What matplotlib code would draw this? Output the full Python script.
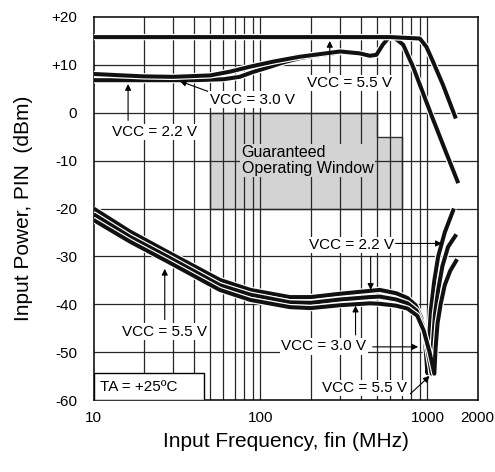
import matplotlib
matplotlib.use("Agg")
from matplotlib import pyplot as plt
from matplotlib.patches import Polygon, Rectangle
import matplotlib.patheffects as pe

plt.rcParams['font.family'] = ['Liberation Sans', 'DejaVu Sans']

# upper curves (maximum input power), MHz / dBm
f_max55 = [10, 100, 300, 600, 900, 985, 1070, 1240, 1480]
p_max55 = [15.8, 15.8, 15.8, 15.8, 15.5, 13.8, 11.0, 5.8, -1.2]

f_max30 = [10, 15, 20, 30, 50, 66, 86, 120, 172, 300, 393, 452, 495, 540, 580,
           617, 660, 716, 820, 1070, 1300, 1530]
p_max30 = [8.1, 7.8, 7.6, 7.5, 7.8, 8.6, 9.6, 10.7, 11.7, 12.8, 12.4, 11.9, 12.1,
           14.2, 15.5, 15.9, 15.2, 14.2, 9.6, -1.0, -8.5, -14.7]

f_max22 = [10, 20, 40, 60, 75, 90, 114, 140, 172, 230, 300]
p_max22 = [6.8, 6.8, 6.8, 7.0, 7.5, 8.5, 9.6, 10.6, 11.4, 12.1, 12.6]

# lower curves (sensitivity)
f_sens22 = [10, 16.5, 27.5, 57, 87, 150, 200, 300, 452, 518, 650, 760, 850, 920,
            965, 1000, 1020, 1050, 1100, 1160, 1270, 1440]
p_sens22 = [-20.0, -24.8, -29.0, -34.9, -37.0, -38.5, -38.5, -37.8, -37.2, -37.0,
            -37.7, -38.7, -40.2, -42.8, -47.0, -54.4, -48.0, -41.0, -35.0, -30.0,
            -25.0, -20.0]

f_sens30 = [10, 16.5, 27.5, 57, 87, 150, 200, 300, 452, 518, 650, 760, 860, 930,
            990, 1060, 1080, 1110, 1160, 1230, 1330, 1490]
p_sens30 = [-21.2, -25.9, -30.0, -36.0, -38.0, -39.6, -39.7, -39.0, -38.5, -38.4,
            -39.0, -39.8, -41.3, -44.0, -48.5, -54.5, -48.0, -42.0, -37.0, -32.0,
            -28.0, -25.4]

f_sens55 = [10, 16.5, 27.5, 57, 87, 150, 200, 300, 452, 518, 650, 760, 870, 950,
            1030, 1100, 1120, 1150, 1200, 1270, 1370, 1505]
p_sens55 = [-22.4, -26.9, -31.0, -37.0, -39.1, -40.6, -40.8, -40.2, -39.8, -39.9,
            -40.3, -40.9, -42.4, -45.5, -50.0, -54.5, -49.0, -44.0, -40.0, -36.0,
            -33.0, -30.6]

window_f = [50, 500, 500, 700, 700, 50]
window_p = [0, 0, -5, -5, -20, -20]

fig = plt.figure(figsize=(4.95, 4.72), dpi=100)
ax = fig.add_axes([0.189, 0.1525, 0.776, 0.8115])
ax.set_xscale('log')
ax.set_xlim(10, 2000)
ax.set_ylim(-60, 20)

# grid: decade minors only up to 1000
for f in list(range(20, 100, 10)) + list(range(100, 1000, 100)) + [1000]:
    ax.axvline(f, color='#262626', lw=0.9, zorder=1)
for p in range(-50, 20, 10):
    ax.axhline(p, color='#262626', lw=0.9, zorder=1)

ax.add_patch(Polygon(list(zip(window_f, window_p)), closed=True, facecolor='#d3d3d3',
                     edgecolor='#333333', lw=1.0, zorder=0.5))
ax.text(77, -10, 'Guaranteed\nOperating Window', fontsize=11.5, ha='left', va='center',
        linespacing=1.05, zorder=2,
        bbox=dict(facecolor='#d3d3d3', edgecolor='none', pad=1))

halo = [pe.Stroke(linewidth=4.6, foreground='white'), pe.Normal()]
for f, p in [(f_max22, p_max22), (f_max30, p_max30), (f_max55, p_max55),
             (f_sens22, p_sens22), (f_sens30, p_sens30), (f_sens55, p_sens55)]:
    ax.plot(f, p, color='#111111', lw=2.9, solid_joinstyle='round',
            solid_capstyle='butt', zorder=3, path_effects=halo)

box = dict(facecolor='white', edgecolor='none', pad=1)
arr = dict(arrowstyle='-|>', color='black', lw=0.8, mutation_scale=9, shrinkA=0, shrinkB=0)
tkw = dict(fontsize=11, ha='center', va='center', zorder=5, bbox=box)

def label(txt, x, y):
    ax.text(x, y, txt, **tkw)

def arrow(x0, y0, x1, y1):
    ax.annotate('', xy=(x1, y1), xytext=(x0, y0), arrowprops=arr, zorder=4)

label('VCC = 2.2 V', 23.1, -4)
arrow(16.1, -1.6, 16.1, 6.0)
label('VCC = 3.0 V', 89.3, 2.7)
arrow(49.9, 4.3, 32.9, 6.6)
label('VCC = 5.5 V', 340, 6.2)
arrow(260, 8.4, 260, 15.0)

label('VCC = 2.2 V', 350, -27.6)
arrow(645, -27.3, 1220, -27.3)
arrow(457, -30.0, 457, -37.0)
label('VCC = 3.0 V', 240, -48.8)
arrow(371, -46.4, 371, -40.3)
arrow(470, -48.9, 880, -48.9)
label('VCC = 5.5 V', 417, -57.5)
arrow(790, -58.7, 1030, -55.0)
label('VCC = 5.5 V', 26.5, -45.7)
arrow(26.7, -43.2, 26.7, -32.6)

ax.add_patch(Rectangle((10, -60), 35.9, 5.6, facecolor='white', edgecolor='black',
                       lw=1.0, zorder=4))
ax.text(10.9, -57.3, 'TA = +25ºC', fontsize=11, ha='left', va='center', zorder=5)

ax.set_xticks([10, 100, 1000, 2000])
ax.set_xticklabels(['10', '100', '1000', '2000'])
ax.xaxis.set_minor_locator(matplotlib.ticker.NullLocator())
ax.set_yticks(range(-60, 30, 10))
ax.set_yticklabels(['-60', '-50', '-40', '-30', '-20', '-10', '0', '+10', '+20'])
ax.tick_params(length=0, labelsize=11, pad=12)
ax.tick_params(axis='x', pad=8)
for s in ax.spines.values():
    s.set_linewidth(1.1)

ax.set_xlabel('Input Frequency, fin (MHz)', fontsize=15, labelpad=5)
ax.set_ylabel('Input Power, PIN  (dBm)', fontsize=15, labelpad=13)

fig.savefig('out.png', dpi=100)
